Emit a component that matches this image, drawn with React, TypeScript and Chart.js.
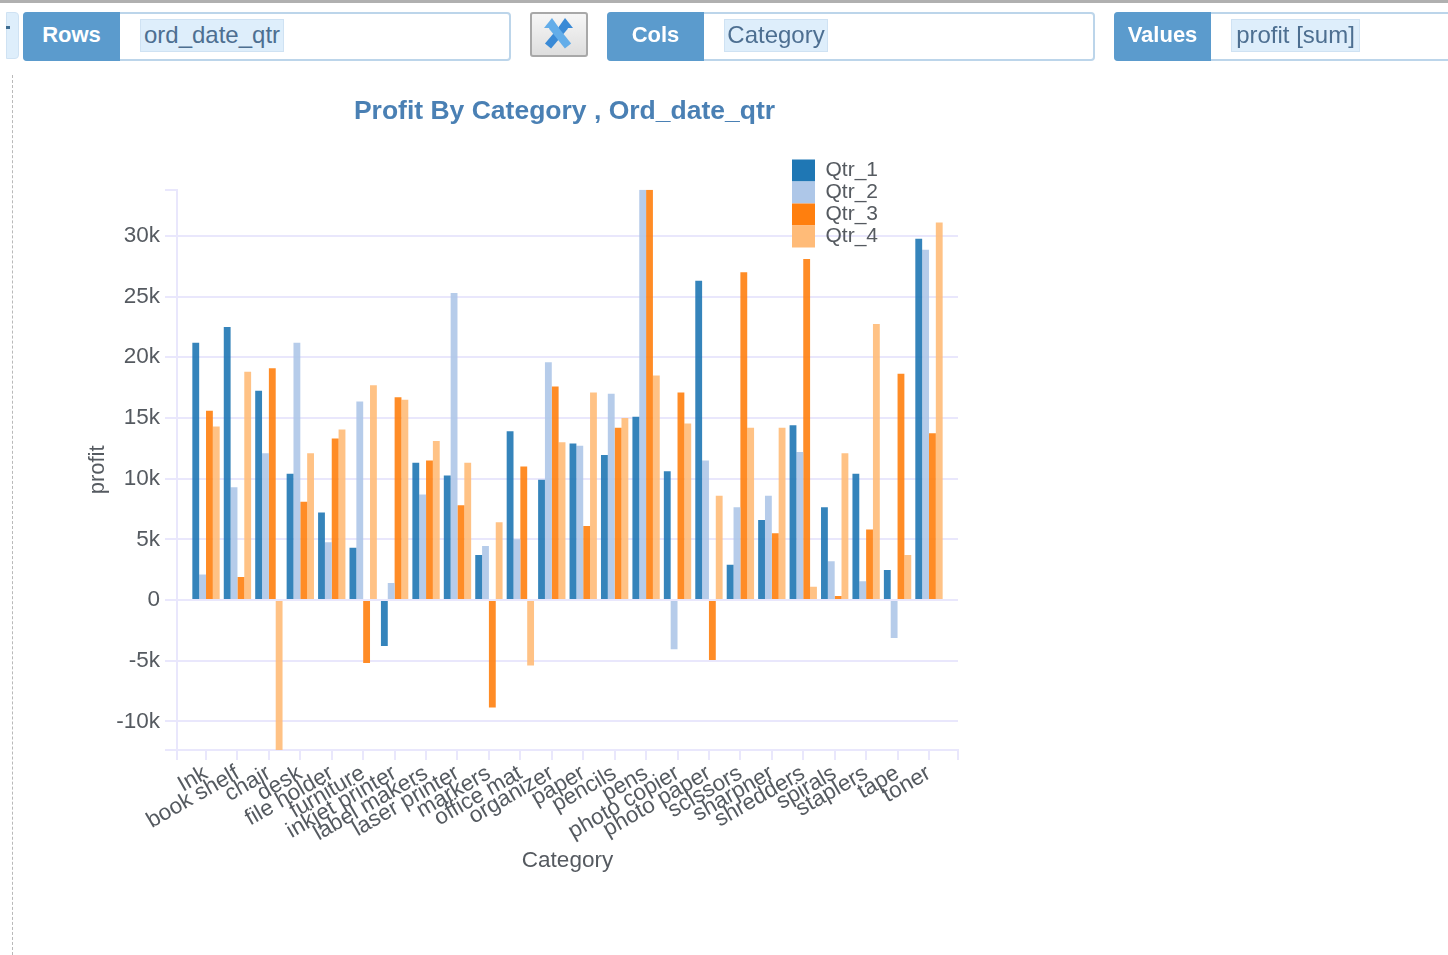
import React, { useEffect, useRef } from "react";
import { Chart, CategoryScale, registerables } from "chart.js";

Chart.register(...registerables);

const categories = ["Ink", "book shelf", "chair", "desk", "file holder", "furniture", "inkjet printer", "label makers", "laser printer", "markers", "office mat", "organizer", "paper", "pencils", "pens", "photo copier", "photo paper", "scissors", "sharpner", "shredders", "spirals", "staplers", "tape", "toner"];
const qtr1 = [21200, 22500, 17250, 10400, 7200, 4300, -3800, 11300, 10250, 3700, 13900, 9900, 12900, 11950, 15100, 10600, 26300, 2900, 6600, 14400, 7650, 10400, 2470, 29760];
const qtr2 = [2100, 9300, 12100, 21200, 4750, 16350, 1400, 8700, 25300, 4450, 5000, 19600, 12700, 17000, 33800, -4050, 11500, 7650, 8600, 12200, 3200, 1550, -3130, 28850];
const qtr3 = [15600, 1900, 19100, 8100, 13300, -5200, 16700, 11500, 7800, -8850, 11000, 17600, 6100, 14200, 33800, 17100, -4950, 27000, 5500, 28100, 330, 5800, 18650, 13750];
const qtr4 = [14300, 18800, -12400, 12100, 14050, 17700, 16500, 13100, 11300, 6400, -5400, 13000, 17100, 15000, 18500, 14550, 8600, 14200, 14200, 1100, 12100, 22750, 3700, 31100];
const seriesNames = ["Qtr_1", "Qtr_2", "Qtr_3", "Qtr_4"];
const seriesColors = ["#1f77b4", "#aec7e8", "#ff7f0e", "#ffbb78"];
const barColors = ["rgba(31,119,180,0.9)", "rgba(174,199,232,0.9)", "rgba(255,127,14,0.9)", "rgba(255,187,120,0.9)"];
const yMin = -12360;
const yMax = 33800;
const yTicks = [-12360, -10000, -5000, 0, 5000, 10000, 15000, 20000, 25000, 30000, 33800];
const GRID = "#e9e7fc";
const TEXT = "#555a60";
const FONT = "Liberation Sans";

class PaddedCategoryScale extends CategoryScale {
  static id = "paddedCategory";
  static defaults = CategoryScale.defaults;
  configure() {
    super.configure();
    const outer = 0.923;
    (this as any)._startValue = -outer;
    (this as any)._valueRange = categories.length - 1 + 2 * outer;
  }
}
Chart.register(PaddedCategoryScale as any);

const axisEnds = {
  id: "axisEnds",
  afterLayout(chart: any) {
    const l = chart.legend;
    if (l) {
      l.left = 792;
      l.right = 900;
      l.top = 157;
      l.bottom = 250;
      l.width = 108;
      l.height = 93;
    }
    const t = chart.titleBlock;
    if (t) {
      t.left = chart.chartArea.left - 3;
      t.right = chart.chartArea.right - 3;
    }
  },
  afterDraw(chart: any) {
    const { ctx, chartArea } = chart;
    ctx.save();
    ctx.strokeStyle = GRID;
    ctx.lineWidth = 2;
    for (const x of [chartArea.left, chartArea.right]) {
      ctx.beginPath();
      ctx.moveTo(x, chartArea.bottom);
      ctx.lineTo(x, chartArea.bottom + 10);
      ctx.stroke();
    }
    ctx.restore();
  },
};

function Field({ label, value, left, width, chip }: any) {
  return (
    <div style={{ position: "absolute", left, top: 12, width, height: 49, boxSizing: "border-box", border: "2px solid #bcd5ea", borderRadius: 4, background: "#fff" }}>
      <div style={{ position: "absolute", left: -2, top: -2, width: 97, height: 49, background: "#5b9bcd", borderRadius: "4px 0 0 4px", color: "#fff", fontWeight: 700, fontSize: 22, lineHeight: "46px", textAlign: "center" }}>{label}</div>
      <div style={{ position: "absolute", left: 115, top: 5, width: chip, height: 33, boxSizing: "border-box", background: "#deeefb", border: "1px solid #cfe2f3", color: "#4d6f91", fontSize: 24, lineHeight: "30px", textAlign: "center", whiteSpace: "nowrap" }}>{value}</div>
    </div>
  );
}

export default function App() {
  const ref = useRef<HTMLCanvasElement>(null);
  useEffect(() => {
    const tickFont = { family: FONT, size: 22.5 };
    const chart = new Chart(ref.current as HTMLCanvasElement, {
      type: "bar",
      data: {
        labels: categories,
        datasets: [qtr1, qtr2, qtr3, qtr4].map((data, i) => ({
          label: seriesNames[i],
          data,
          backgroundColor: barColors[i],
          borderWidth: 0,
          categoryPercentage: 0.87,
          barPercentage: 1,
        })),
      },
      plugins: [axisEnds],
      options: {
        animation: false,
        responsive: false,
        layout: { autoPadding: false, padding: { left: 75, right: 490, top: 0, bottom: 75 } },
        plugins: {
          tooltip: { enabled: false },
          title: {
            display: true,
            text: "Profit By Category , Ord_date_qtr",
            color: "#4a80b4",
            fullSize: false,
            font: { family: FONT, size: 26.5, weight: "bold", lineHeight: 1.2 },
            padding: { top: 96, bottom: 62 },
          },
          legend: {
            position: "chartArea",
            labels: {
              boxWidth: 23,
              boxHeight: 22,
              padding: 0,
              color: TEXT,
              font: { family: FONT, size: 21 },
              generateLabels: (c: any) =>
                c.data.datasets.map((d: any, i: number) => ({
                  text: d.label,
                  fillStyle: seriesColors[i],
                  strokeStyle: seriesColors[i],
                  lineWidth: 0,
                  fontColor: TEXT,
                  hidden: false,
                  datasetIndex: i,
                })),
            },
          },
        } as any,
        scales: {
          x: {
            type: "paddedCategory" as any,
            offset: false,
            afterFit: (s: any) => { s.height = 130; },
            grid: { offset: false, drawOnChartArea: false, color: GRID, tickColor: GRID, tickLength: 10, lineWidth: 2 },
            border: { color: GRID, width: 2 },
            ticks: { autoSkip: false, maxRotation: 30, minRotation: 30, color: TEXT, font: tickFont, padding: 0 },
            title: { display: true, text: "Category", color: TEXT, font: { family: FONT, size: 22.5, lineHeight: 1.2 }, padding: { top: 0, bottom: 6 } },
          },
          y: {
            min: yMin,
            max: yMax,
            afterFit: (s: any) => { s.width = 102; },
            afterBuildTicks: (s: any) => { s.ticks = yTicks.map((value) => ({ value })); },
            grid: {
              lineWidth: 2,
              tickLength: 12,
              tickColor: GRID,
              color: (c: any) => (c.tick && c.tick.value === yMax ? "rgba(0,0,0,0)" : GRID),
            },
            border: { color: GRID, width: 2 },
            ticks: {
              autoSkip: false,
              color: TEXT,
              font: tickFont,
              padding: 5,
              callback: (v: any) => (v % 5000 !== 0 ? "" : v === 0 ? "0" : `${v / 1000}k`),
            },
            title: { display: true, text: "profit", color: TEXT, font: { family: FONT, size: 22, lineHeight: 1.2 }, padding: { top: 10, bottom: 0 } },
          },
        },
      } as any,
    });
    return () => chart.destroy();
  }, []);

  return (
    <div style={{ position: "absolute", left: 0, top: 0, width: 1448, height: 955, overflow: "hidden", background: "#fff", fontFamily: FONT, filter: "blur(0.6px)" }}>
      <canvas ref={ref} width={1448} height={955} style={{ position: "absolute", left: 0, top: 0, display: "block" }} />
      <div style={{ position: "absolute", left: 0, top: 0, width: 1448, height: 3, background: "#b0b0b0" }} />
      <div style={{ position: "absolute", left: 6, top: 12, width: 13, height: 47, background: "#deeefb", border: "1px solid #cfe2f3", boxSizing: "border-box", borderRadius: "0 4px 4px 0" }} />
      <div style={{ position: "absolute", left: 6, top: 26, width: 4, height: 3, background: "#3f6d91" }} />
      <div style={{ position: "absolute", left: 12, top: 75, height: 880, borderLeft: "1px dashed #b9b9b9" }} />
      <Field label="Rows" value="ord_date_qtr" left={23} width={488} chip={144} />
      <div style={{ position: "absolute", left: 530, top: 12, width: 58, height: 45, boxSizing: "border-box", border: "2px solid #a8a8a8", borderRadius: 3, background: "linear-gradient(#f6f6f6,#dedede)" }}>
        <svg width="54" height="41" viewBox="0 0 54 41">
          <path d="M33 12 L16 32" stroke="#3a8ad6" strokeWidth="8" fill="none" />
          <path d="M26 14 L33 4 L41 14 Z" fill="#3a8ad6" />
          <path d="M20 12 L36 32" stroke="#63ade9" strokeWidth="8" fill="none" />
          <path d="M12 14 L20 4 L27 14 Z" fill="#63ade9" />
        </svg>
      </div>
      <Field label="Cols" value="Category" left={607} width={488} chip={104} />
      <Field label="Values" value="profit [sum]" left={1114} width={360} chip={129} />
    </div>
  );
}
